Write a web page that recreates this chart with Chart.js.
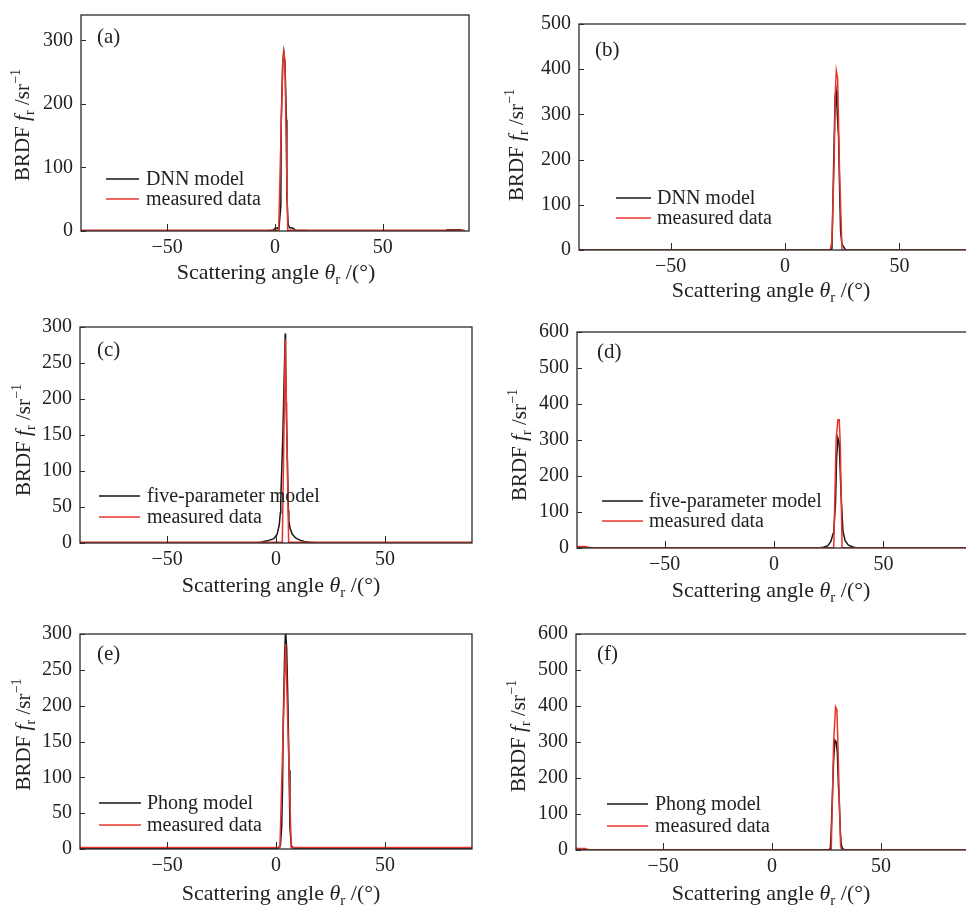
<!DOCTYPE html>
<html><head><meta charset="utf-8">
<script src="https://cdn.jsdelivr.net/npm/chart.js@4.4.1/dist/chart.umd.min.js"></script>
<style>
html,body{margin:0;padding:0;background:#fff;}
body{width:966px;height:907px;overflow:hidden;position:relative;}
canvas{position:absolute;}
</style></head><body>
<script>
// ---------------- DATA ----------------
const xTickValues = [-50, 0, 50];
const yTicksA = [0, 100, 200, 300];
const yTicksB = [0, 100, 200, 300, 400, 500];
const yTicksC = [0, 50, 100, 150, 200, 250, 300];
const yTicksD = [0, 100, 200, 300, 400, 500, 600];
const yTicksE = [0, 50, 100, 150, 200, 250, 300];
const yTicksF = [0, 100, 200, 300, 400, 500, 600];

const panelLabels = ['(a)', '(b)', '(c)', '(d)', '(e)', '(f)'];
const modelNames = ['DNN model', 'DNN model', 'five-parameter model', 'five-parameter model', 'Phong model', 'Phong model'];
const measuredName = 'measured data';

// (a) DNN model vs measured
const aX_model = [-90, -60, -30, -5, -1, 0, 1, 1.8, 2.7, 2.9, 3.6, 4.1, 4.6, 5.3, 5.5, 6.1, 6.8, 7.5, 8.5, 9.5, 20, 50, 79, 80, 83, 86, 87, 88];
const aY_model = [0, 0, 0, 0, 1, 4, 5, 3, 40, 175, 265, 282, 266, 175, 55, 10, 5, 5, 4, 1, 0, 0, 0, 2, 2, 2, 1, 0];
const aX_meas = [-90, -60, -30, -5, 0, 1, 1.7, 3.6, 4.0, 4.6, 5.9, 6.5, 10, 30, 60, 88];
const aY_meas = [1, 1, 1, 1, 1, 1, 1, 265, 285, 265, 1, 1, 1, 1, 1, 1];

// (b) DNN model vs measured
const bX_model = [-90, 0, 15, 19.8, 20.5, 20.8, 21.3, 21.9, 22.3, 22.7, 23.4, 23.9, 24.3, 24.9, 25.5, 26.5, 40, 90];
const bY_model = [0, 0, 0, 0, 3, 70, 200, 340, 352, 315, 250, 125, 40, 12, 8, 0, 0, 0];
const bX_meas = [-90, 0, 19.8, 20.5, 21.5, 22.0, 22.4, 23.0, 23.8, 24.9, 30, 90];
const bY_meas = [0, 0, 0, 20, 200, 350, 397, 380, 180, 0, 0, 0];

// (c) five-parameter model vs measured
const cX_model = [-90, -30, -10, -7, -4, -1, 0.5, 1.5, 2.0, 2.2, 3.1, 3.3, 4.25, 4.4, 4.7, 4.8, 5.7, 5.9, 6.5, 7.5, 9, 11, 13, 15.5, 20, 90];
const cY_model = [0, 0, 0, 1, 3, 6, 12, 25, 42, 60, 145, 170, 291, 250, 195, 175, 45, 30, 20, 12, 7, 4, 2, 1, 0, 0];
const cX_meas = [-90, -30, 0, 2.5, 2.9, 4.3, 5.8, 6.2, 30, 90];
const cY_meas = [1, 1, 1, 1, 1, 283, 1, 1, 1, 1];

// (d) five-parameter model vs measured
const dX_model = [-90, -30, 0, 15, 20, 22.5, 24.5, 26, 27, 27.4, 28.1, 28.6, 29.2, 29.8, 30.3, 30.7, 31.5, 32.5, 34, 36, 38, 60, 90];
const dY_model = [0, 0, 0, 0, 0, 2, 6, 18, 40, 57, 123, 250, 305, 290, 205, 140, 47, 20, 8, 3, 0, 0, 0];
const dX_meas = [-90, -88, -86, -84, -30, 0, 20, 27.3, 28.4, 29.2, 29.8, 30.3, 31.1, 35, 60, 90];
const dY_meas = [4, 4, 4, 1, 1, 1, 1, 1, 305, 356, 356, 285, 1, 1, 1, 1];

// (e) Phong model vs measured
const eX_model = [-90, -30, -5, 0, 1, 2, 2.6, 3, 3.3, 4, 4.4, 4.9, 5.5, 6, 6.4, 7, 8, 10, 30, 90];
const eY_model = [1, 1, 1, 1, 1, 5, 30, 85, 175, 275, 305, 280, 200, 110, 30, 5, 1, 1, 1, 1];
const eX_meas = [-90, -30, 0, 1.8, 4.4, 7.0, 10, 30, 90];
const eY_meas = [2, 2, 2, 2, 286, 2, 2, 2, 2];

// (f) Phong model vs measured
const fX_model = [-90, -30, 0, 20, 26, 26.8, 27.1, 27.6, 28.3, 28.9, 29.5, 30, 30.5, 30.9, 31.4, 31.8, 32.5, 34, 60, 90];
const fY_model = [0, 0, 0, 0, 0, 5, 40, 125, 250, 305, 300, 270, 180, 130, 50, 15, 3, 0, 0, 0];
const fX_meas = [-90, -88, -86, -84, -30, 0, 20, 27.2, 27.7, 28.3, 29.2, 29.8, 30.3, 30.9, 31.5, 32, 40, 90];
const fY_meas = [4, 4, 4, 1, 1, 1, 1, 1, 130, 300, 398, 390, 285, 140, 10, 1, 1, 1];

// ---------------- LAYOUT / STYLE ----------------
const FONT = '"Liberation Serif", "Times New Roman", serif';
const TXT = '#222';
const BLACK = '#161616';
const RED = '#e8352b';
const PADL = 80, PADT = 10, PADR = 10, PADB = 60;

const panels = [
  {L:81, T:5,   R:469, B:231, ymax:340, yt:yTicksA, mx:aX_model, my:aY_model, sx:aX_meas, sy:aY_meas,
   lab:[16,22], leg:[25,33,52,32,7], xt:[195,41], ytl:[-59,2]},
  {L:579,T:14,  R:991, B:250, ymax:500, yt:yTicksB, mx:bX_model, my:bY_model, sx:bX_meas, sy:bY_meas,
   lab:[16,26], leg:[37,35,52,32,6], xt:[192,40], ytl:[-63,8]},
  {L:80, T:317, R:472, B:543, ymax:300, yt:yTicksC, mx:cX_model, my:cY_model, sx:cX_meas, sy:cY_meas,
   lab:[17,23], leg:[19,41,47,26,7], xt:[201,42], ytl:[-57,5]},
  {L:577,T:322, R:971, B:548, ymax:600, yt:yTicksD, mx:dX_model, my:dY_model, sx:dX_meas, sy:dY_meas,
   lab:[20,20], leg:[25,41,47,27,6], xt:[194,42], ytl:[-58,5]},
  {L:80, T:624, R:472, B:849, ymax:300, yt:yTicksE, mx:eX_model, my:eY_model, sx:eX_meas, sy:eY_meas,
   lab:[17,20], leg:[19,42,46,24,6], xt:[201,44], ytl:[-57,-7]},
  {L:576,T:624, R:968, B:850, ymax:600, yt:yTicksF, mx:fX_model, my:fY_model, sx:fX_meas, sy:fY_meas,
   lab:[21,20], leg:[31,41,46,24,7], xt:[195,43], ytl:[-58,-6]}
];

const xTitleSegs = [{t:'Scattering angle '}, {t:'\u03B8', it:true}, {t:'r', sub:true}, {t:' /(\u00B0)'}];
const yTitleSegs = [{t:'BRDF '}, {t:'f', it:true}, {t:'r', sub:true}, {t:' /sr'}, {t:'\u22121', sup:true}];

function drawRich(ctx, segs, size, cx, cy, rot) {
  ctx.save();
  ctx.translate(cx, cy);
  if (rot) ctx.rotate(-Math.PI / 2);
  let total = 0; const ws = [];
  segs.forEach(s => {
    const fs = (s.sub || s.sup) ? size * 0.68 : size;
    ctx.font = (s.it ? 'italic ' : '') + fs + 'px ' + FONT;
    const w = ctx.measureText(s.t).width; ws.push(w); total += w;
  });
  let x = -total / 2;
  ctx.fillStyle = TXT; ctx.textBaseline = 'alphabetic'; ctx.textAlign = 'left';
  segs.forEach((s, i) => {
    const fs = (s.sub || s.sup) ? size * 0.68 : size;
    ctx.font = (s.it ? 'italic ' : '') + fs + 'px ' + FONT;
    const dy = s.sub ? size * 0.22 : (s.sup ? -size * 0.42 : 0);
    ctx.fillText(s.t, x, size * 0.34 + dy);
    x += ws[i];
  });
  ctx.restore();
}

const decoPlugin = {
  id: 'deco',
  afterDraw(chart) {
    const p = chart.options.plugins.deco.panel;
    const idx = chart.options.plugins.deco.idx;
    const ctx = chart.ctx, a = chart.chartArea;
    const xs = chart.scales.x, ys = chart.scales.y;
    ctx.save();
    // frame
    ctx.strokeStyle = '#2a2a2a'; ctx.lineWidth = 1.3;
    ctx.strokeRect(a.left, a.top, a.right - a.left, a.bottom - a.top);
    // inward tick marks
    ctx.lineWidth = 1;
    xs.ticks.forEach(t => {
      const px = Math.round(xs.getPixelForValue(t.value)) + 0.5;
      ctx.beginPath(); ctx.moveTo(px, a.bottom); ctx.lineTo(px, a.bottom - 7); ctx.stroke();
    });
    ys.ticks.forEach(t => {
      const py = Math.round(ys.getPixelForValue(t.value)) + 0.5;
      ctx.beginPath(); ctx.moveTo(a.left, py); ctx.lineTo(a.left + 5, py); ctx.stroke();
    });
    // panel label
    ctx.fillStyle = TXT; ctx.font = '21px ' + FONT;
    ctx.textAlign = 'left'; ctx.textBaseline = 'middle';
    ctx.fillText(panelLabels[idx], a.left + p.lab[0], a.top + p.lab[1]);
    // legend
    const [lx, len, y1, y2, gap] = p.leg;
    const dss = chart.data.datasets;
    [[dss[0], y1], [dss[1], y2]].forEach(([ds, dy]) => {
      const yy = a.bottom - dy;
      ctx.strokeStyle = ds.borderColor; ctx.lineWidth = 1.5;
      ctx.beginPath(); ctx.moveTo(a.left + lx, yy); ctx.lineTo(a.left + lx + len, yy); ctx.stroke();
      ctx.fillStyle = TXT; ctx.font = '20px ' + FONT; ctx.textBaseline = 'middle';
      ctx.fillText(ds.label, a.left + lx + len + gap, yy + 1);
    });
    // axis titles
    drawRich(ctx, xTitleSegs, 22, a.left + p.xt[0], a.bottom + p.xt[1], false);
    drawRich(ctx, yTitleSegs, 21, a.left + p.ytl[0], (a.top + a.bottom) / 2 + p.ytl[1], true);
    ctx.restore();
  }
};

function toPts(xs, ys) { return xs.map((x, i) => ({x: x, y: ys[i]})); }

panels.forEach((p, idx) => {
  const c = document.createElement('canvas');
  const w = (p.R - p.L) + PADL + PADR, h = (p.B - p.T) + PADT + PADB;
  c.width = w; c.height = h;
  c.style.width = w + 'px'; c.style.height = h + 'px';
  c.style.left = (p.L - PADL) + 'px'; c.style.top = (p.T - PADT) + 'px';
  document.body.appendChild(c);
  new Chart(c, {
    type: 'line',
    data: {
      datasets: [
        {label: modelNames[idx], data: toPts(p.mx, p.my), borderColor: BLACK, borderWidth: 1.5, pointRadius: 0, tension: 0, order: 1, fill: false},
        {label: measuredName, data: toPts(p.sx, p.sy), borderColor: RED, borderWidth: 1.5, pointRadius: 0, tension: 0, order: 0, fill: false}
      ]
    },
    options: {
      responsive: false, animation: false, devicePixelRatio: 1,
      layout: {padding: {left: 0, top: PADT, right: PADR, bottom: 0}},
      plugins: {legend: {display: false}, tooltip: {enabled: false}, deco: {panel: p, idx: idx}},
      scales: {
        x: {
          type: 'linear', min: -90, max: 90,
          grid: {display: false, drawTicks: false}, border: {display: false},
          afterBuildTicks: s => { s.ticks = xTickValues.map(v => ({value: v})); },
          afterFit: s => { s.height = PADB; },
          ticks: {padding: 5, color: TXT, font: {family: FONT, size: 20}, maxRotation: 0, autoSkip: false,
                  callback: v => (v < 0 ? '\u2212' + Math.abs(v) : '' + v)}
        },
        y: {
          type: 'linear', min: 0, max: p.ymax,
          grid: {display: false, drawTicks: false}, border: {display: false},
          afterBuildTicks: s => { s.ticks = p.yt.map(v => ({value: v})); },
          afterFit: s => { s.width = PADL; },
          ticks: {padding: 8, color: TXT, font: {family: FONT, size: 20}, autoSkip: false,
                  callback: v => '' + v}
        }
      }
    },
    plugins: [decoPlugin]
  });
});
</script>
</body></html>
